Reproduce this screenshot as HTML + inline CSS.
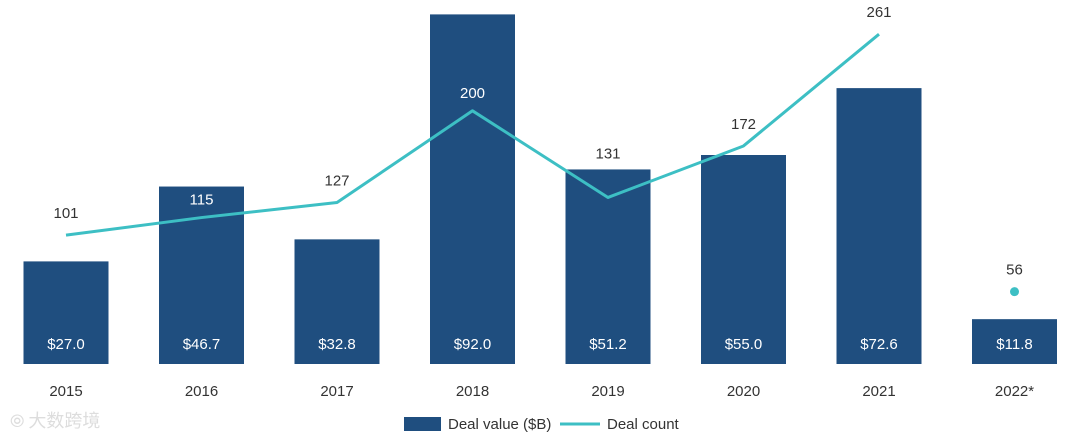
<!DOCTYPE html>
<html><head><meta charset="utf-8"><style>
body{margin:0;background:#fff;}
svg{display:block;font-family:"Liberation Sans Narrow","Liberation Sans",sans-serif;}
</style></head><body>
<svg id="chart" width="1080" height="439" viewBox="0 0 1080 439">
<g id="bars"></g>
<g id="line"></g>
<g id="labels"></g>
<g>
<rect x="404" y="417" width="37" height="14" fill="#1f4e7f"/>
<text x="448" y="429" font-size="15" fill="#333">Deal value ($B)</text>
<line x1="560" y1="424" x2="600" y2="424" stroke="#3dbfc4" stroke-width="3"/>
<text x="607" y="429" font-size="15" fill="#333">Deal count</text>
</g>
<text x="10" y="427" font-size="18" fill="#ddd" font-family="'Noto Sans CJK SC',sans-serif">⦾ 大数跨境</text>
</svg>
<script>
const years=["2015","2016","2017","2018","2019","2020","2021","2022*"];
const dealValues=[27.0,46.7,32.8,92.0,51.2,55.0,72.6,11.8];
const valueLabels=["$27.0","$46.7","$32.8","$92.0","$51.2","$55.0","$72.6","$11.8"];
const dealCounts=[101,115,127,200,131,172,261,56];
const NS="http://www.w3.org/2000/svg";
const base=364, pxPerB=3.8, cntZero=362, pxPerCnt=1.256;
function xC(i){return 66+i*135.5;}
function yV(v){return base-v*pxPerB;}
function yC(c){return cntZero-c*pxPerCnt;}
function mk(tag,attrs,parent){const e=document.createElementNS(NS,tag);for(const k in attrs)e.setAttribute(k,attrs[k]);document.getElementById(parent).appendChild(e);return e;}
const bw=85;
years.forEach((y,i)=>{
 const r=mk("rect",{x:xC(i)-bw/2,y:yV(dealValues[i]),width:bw,height:base-yV(dealValues[i]),fill:"#1f4e7f"},"bars");
 
 
 const t=mk("text",{x:xC(i),y:349,"text-anchor":"middle","font-size":"15",fill:"#fff"},"labels");
 t.textContent=valueLabels[i];
 
 
 const yl=mk("text",{x:xC(i),y:396,"text-anchor":"middle","font-size":"15",fill:"#333"},"labels");
 yl.textContent=y;
 
 
});
let pts=[];
for(let i=0;i<7;i++)pts.push(xC(i)+","+yC(dealCounts[i]));
const pl=mk("polyline",{points:pts.join(" "),fill:"none",stroke:"#3dbfc4","stroke-width":"3","stroke-linejoin":"round"},"line");


const dot=mk("circle",{cx:xC(7),cy:yC(dealCounts[7]),r:4.5,fill:"#3dbfc4"},"line");


dealCounts.forEach((c,i)=>{
 const py=yC(c), top=yV(dealValues[i]);
 let ly=py-22, fill="#333";
 if(py-top>30){ly=py-18;fill="#fff";}
 else if(py>top){ly=top-16;}
 const t=mk("text",{x:xC(i),y:ly+5,"text-anchor":"middle","font-size":"15",fill:fill},"labels");
 t.textContent=c;
 
 
});
</script>
</body></html>
